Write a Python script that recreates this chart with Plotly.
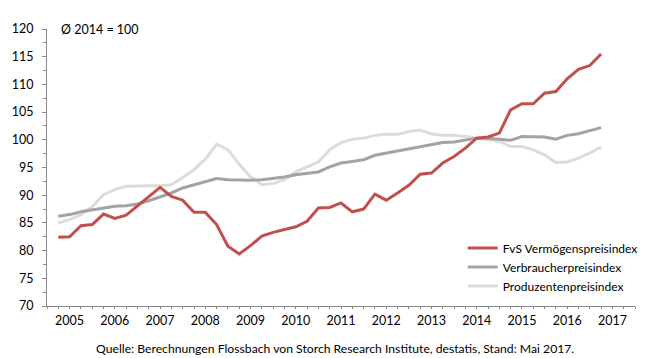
import plotly.graph_objects as go

# Quarterly observations (quarter ends), Q1 2005 .. Q1 2017
quarters = [f"{y}Q{q}" for y in range(2005, 2018) for q in range(1, 5)][:49]

fvs_vermoegen = [82.4, 82.5, 84.5, 84.7, 86.6, 85.8, 86.4, 88.1, 89.8, 91.4,
                 89.8, 89.1, 86.9, 86.9, 84.7, 80.8, 79.4, 80.9, 82.6, 83.3,
                 83.8, 84.3, 85.3, 87.7, 87.8, 88.6, 87.0, 87.5, 90.2, 89.1,
                 90.4, 91.8, 93.8, 94.0, 95.8, 97.0, 98.5, 100.3, 100.5, 101.2,
                 105.4, 106.5, 106.5, 108.4, 108.7, 111.0, 112.7, 113.4, 115.5]
verbraucher = [86.2, 86.5, 87.0, 87.3, 87.6, 88.0, 88.1, 88.4, 89.0, 89.7,
               90.4, 91.3, 91.9, 92.5, 93.0, 92.8, 92.7, 92.7, 92.8, 93.0,
               93.3, 93.7, 94.0, 94.2, 95.1, 95.8, 96.1, 96.4, 97.2, 97.6,
               98.0, 98.4, 98.8, 99.1, 99.5, 99.6, 100.0, 100.3, 100.3, 100.1,
               99.9, 100.6, 100.6, 100.5, 100.1, 100.8, 101.1, 101.6, 102.2]
produzenten = [85.0, 85.6, 86.5, 87.9, 90.1, 91.0, 91.6, 91.7, 91.7, 91.7,
               91.9, 93.2, 94.6, 96.5, 99.2, 98.2, 95.6, 93.3, 91.9, 92.1,
               92.8, 94.2, 95.1, 96.0, 98.2, 99.5, 100.1, 100.3, 100.8, 101.0,
               101.0, 101.5, 101.7, 101.1, 100.8, 100.8, 100.6, 100.3, 100.1, 99.7,
               98.8, 98.8, 98.2, 97.3, 95.9, 96.0, 96.7, 97.6, 98.7]

years = list(range(2005, 2018))
year_labels = [str(y) for y in years]
series_names = ["FvS Vermögenspreisindex", "Verbraucherpreisindex", "Produzentenpreisindex"]

# position of each quarter end on a numeric year axis
xpos = [int(q[:4]) + int(q[-1]) / 4 for q in quarters]

FONT = "Lato, 'Liberation Sans', Arial, sans-serif"
AXC = "#8a8a8a"

fig = go.Figure()
fig.add_trace(go.Scatter(x=xpos, y=produzenten, mode="lines", name=series_names[2],
                         line=dict(color="#dcdcdc", width=3)))
fig.add_trace(go.Scatter(x=xpos, y=verbraucher, mode="lines", name=series_names[1],
                         line=dict(color="#a3a3a3", width=3)))
fig.add_trace(go.Scatter(x=xpos, y=fvs_vermoegen, mode="lines", name=series_names[0],
                         line=dict(color="#c0504d", width=3)))

xr = [years[0], years[-1] + 1]
fig.update_layout(
    width=655, height=358,
    margin=dict(l=46, r=14, t=29, b=52, pad=0),
    paper_bgcolor="white", plot_bgcolor="white",
    font=dict(family=FONT, size=12, color="black"),
    showlegend=True,
    legend=dict(x=0.707, y=0.262, xanchor="left", yanchor="top",
                traceorder="reversed", bgcolor="rgba(0,0,0,0)",
                itemwidth=30, font=dict(size=12), tracegroupgap=0),
    xaxis=dict(range=xr, showline=True, linecolor=AXC, linewidth=1,
               showgrid=False, zeroline=False,
               tickmode="array", tickvals=[y + 0.5 for y in years], ticktext=year_labels,
               ticks="", ticklabelstandoff=3,
               tickfont=dict(size=12.5),
               minor=dict(tickmode="linear", tick0=years[0], dtick=0.25,
                          ticks="outside", ticklen=2, tickcolor=AXC, showgrid=False)),
    xaxis2=dict(range=xr, overlaying="x", anchor="y", side="bottom",
                showline=False, showgrid=False, zeroline=False, showticklabels=False,
                tickmode="linear", tick0=years[0], dtick=1,
                ticks="outside", ticklen=3, tickcolor=AXC,
                minor=dict(tickmode="linear", tick0=years[0], dtick=0.25,
                           ticks="inside", ticklen=2, tickcolor=AXC)),
    xaxis3=dict(range=xr, overlaying="x", anchor="y", side="bottom",
                showline=False, showgrid=False, zeroline=False, showticklabels=False,
                tickmode="linear", tick0=years[0], dtick=1,
                ticks="inside", ticklen=3, tickcolor=AXC),
    yaxis=dict(range=[70, 120], tickmode="linear", tick0=70, dtick=5,
               showline=True, linecolor=AXC, linewidth=1,
               showgrid=False, zeroline=False,
               ticks="outside", ticklen=4, tickcolor=AXC, ticklabelstandoff=6,
               tickfont=dict(size=12.5),
               minor=dict(tickmode="linear", tick0=70, dtick=2.5,
                          ticks="outside", ticklen=3, tickcolor=AXC)),
    annotations=[
        dict(text="Ø 2014 = 100", xref="paper", yref="paper", x=0.021, y=1.0,
             xanchor="left", yanchor="middle", showarrow=False, font=dict(size=12.5)),
        dict(text="Quelle: Berechnungen Flossbach von Storch Research Institute, destatis, Stand: Mai 2017.",
             xref="paper", yref="paper", x=0.489, y=-0.154,
             xanchor="center", yanchor="middle", showarrow=False, font=dict(size=12.2)),
    ],
)

fig.write_html("out.html",
               config={"displayModeBar": False},
               post_script="document.body.style.margin='0';document.body.style.padding='0';")
